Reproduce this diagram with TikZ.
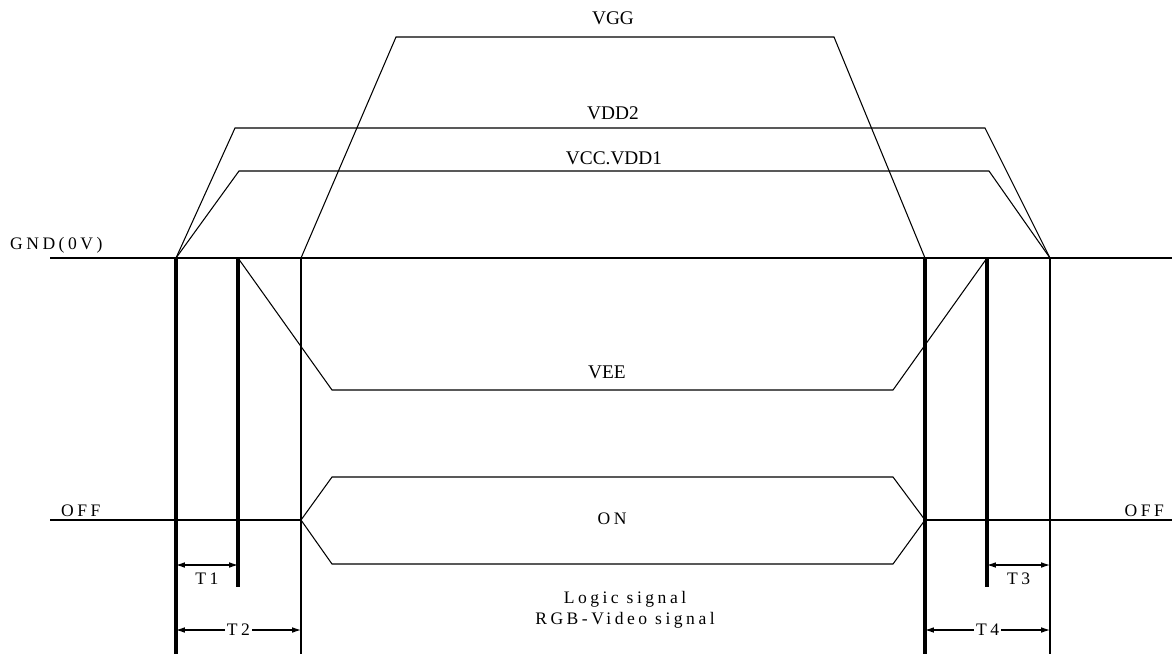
\documentclass[tikz,border=0pt]{standalone}
\usepackage{fontspec}
\setmainfont{Liberation Serif}
\newfontfamily\spacedfont[LetterSpace=20]{Liberation Serif}
\usetikzlibrary{arrows.meta}

\begin{document}
\begin{tikzpicture}[
    x=0.02cm, y=-0.02cm,
    >={Latex[length=5pt,width=3.2pt]},
    sig/.style={line width=0.6pt},
    edge/.style={line width=1.8pt},
    dim/.style={<->, line width=0.6pt},
    lvl/.style={font=\fontsize{11}{12}\selectfont, inner sep=1pt},
    tag/.style={font=\spacedfont\fontsize{10}{12}\selectfont, inner sep=1pt}
]
\useasboundingbox (0,0) rectangle (1172,654);

% time instants on the ground line
\coordinate (t1) at (176,258);
\coordinate (t2) at (238,258);
\coordinate (t3) at (301,258);
\coordinate (t4) at (925,258);
\coordinate (t5) at (987,258);
\coordinate (t6) at (1050,258);

% ground and off levels
\draw[sig] (50,258) -- (1172,258);
\draw[sig] (50,520) -- (301,520);
\draw[sig] (925,520) -- (1172,520);
\node[tag, anchor=west] (gnd) at (8,245) {GND(0V)};
\node[tag, anchor=west] (offl) at (59,511) {OFF};
\node[tag, anchor=east] (offr) at (1166,511) {OFF};

% supplies
\draw[sig] (t3) -- (396,37) -- (834,37) -- (t4);
\draw[sig] (t1) -- (235,128) -- (985,128) -- (t6);
\draw[sig] (t1) -- (239,171) -- (989,171) -- (t6);
\draw[sig] (t2) -- (332,390) -- (893,390) -- (t5);
\node[lvl] (vgg) at (613,18) {VGG};
\node[lvl] (vdd2) at (613,113) {VDD2};
\node[lvl] (vcc) at (614,158) {VCC.VDD1};
\node[lvl] (vee) at (607,372) {VEE};

% logic / video bus
\draw[sig] (301,520) -- (332,477) -- (893,477) -- (925,520)
    -- (893,564) -- (332,564) -- cycle;
\node[tag] (on) at (612,519) {ON};
\node[tag, align=center] (logic) at (625,610) {Logic signal\\RGB-Video signal};

% timing marks
\draw[edge] (t1) -- (176,654);
\draw[edge] (t2) -- (238,587);
\draw[sig] (t3) -- (301,654);
\draw[edge] (t4) -- (925,654);
\draw[edge] (t5) -- (987,587);
\draw[sig] (t6) -- (1050,654);

\draw[dim] (176,565) -- node[tag, below=3pt] (T1) {T1} (238,565);
\draw[dim] (176,630) -- node[tag, fill=white] (T2) {T2} (301,630);
\draw[dim] (987,565) -- node[tag, below=3pt] (T3) {T3} (1050,565);
\draw[dim] (925,630) -- node[tag, fill=white] (T4) {T4} (1050,630);
\end{tikzpicture}
\end{document}
